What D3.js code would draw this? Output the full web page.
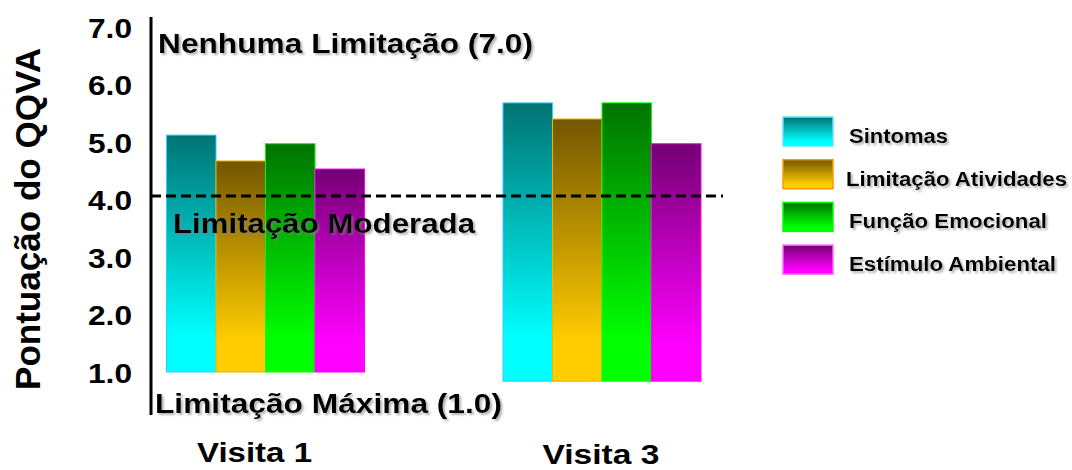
<!DOCTYPE html>
<html>
<head>
<meta charset="utf-8">
<script src="https://cdn.jsdelivr.net/npm/d3@7"></script>
<style>
  body { margin: 0; background: #ffffff; }
  text { font-family: "Liberation Sans", Arial, sans-serif; font-weight: bold; fill: #000; }
</style>
</head>
<body>
<div id="chart"></div>
<script>
// data
const groups = ["Visita 1", "Visita 3"];
const series = ["Sintomas", "Limitação Atividades", "Função Emocional", "Estímulo Ambiental"];
const visita1 = [5.12, 4.67, 4.97, 4.53];
const visita3 = [5.68, 5.40, 5.68, 4.97];
const groupBase = [1.0, 0.84];
const yTicks = [1, 2, 3, 4, 5, 6, 7];
const refLine = 4.06;
const annotations = ["Nenhuma Limitação (7.0)", "Limitação Moderada", "Limitação Máxima (1.0)"];
const yTitle = "Pontuação do QQVA";

// colours: dark top / bright bottom of each gradient
const topColors = ["#007373", "#735600", "#007300", "#730073"];
const bottomColors = ["#00ffff", "#ffcc00", "#00ff00", "#ff00ff"];
const barBorders = ["#33ccff", "#e6b800", "#00ff00", "#ff00ff"];
const legendBorders = ["#66e0ff", "#ff9900", "#00ff00", "#ff66ff"];

const values = [visita1, visita3];

// set the dimensions of the graph
const width = 1072, height = 470;

let svg = d3.select("#chart").append("svg")
  .attr("width", width)
  .attr("height", height)
  .style("display", "block");

svg.append("rect")
  .attr("width", width)
  .attr("height", height)
  .attr("fill", "#ffffff");

let defs = svg.append("defs");

// one vertical gradient per series
series.forEach(function (s, i) {
  let g = defs.append("linearGradient")
    .attr("id", "grad" + i)
    .attr("x1", 0).attr("y1", 0)
    .attr("x2", 0).attr("y2", 1);
  g.append("stop").attr("offset", "0%").attr("stop-color", topColors[i]);
  g.append("stop").attr("offset", "85%").attr("stop-color", bottomColors[i]);
  g.append("stop").attr("offset", "100%").attr("stop-color", bottomColors[i]);
});

// soft shadow behind some labels
let shadow = defs.append("filter")
  .attr("id", "shadow")
  .attr("x", "-5%").attr("y", "-20%")
  .attr("width", "115%").attr("height", "160%");
shadow.append("feDropShadow")
  .attr("dx", 2).attr("dy", 2)
  .attr("stdDeviation", 1)
  .attr("flood-color", "#808080")
  .attr("flood-opacity", 0.6);

// scales
const y = d3.scaleLinear()
  .domain([1, 7])
  .range([372, 27]);

const x0 = d3.scalePoint()
  .domain(groups)
  .range([265.5, 602]);

const x1 = d3.scaleBand()
  .domain(series)
  .range([-99, 99]);

// bars
groups.forEach(function (grp, gi) {
  svg.append("g")
    .attr("transform", "translate(" + x0(grp) + ",0)")
    .selectAll("rect")
    .data(values[gi])
    .enter().append("rect")
      .attr("x", function (d, i) { return x1(series[i]); })
      .attr("y", function (d) { return y(d); })
      .attr("width", x1.bandwidth())
      .attr("height", function (d) { return y(groupBase[gi]) - y(d); })
      .attr("fill", function (d, i) { return "url(#grad" + i + ")"; })
      .attr("stroke", function (d, i) { return barBorders[i]; })
      .attr("stroke-width", 1);
});

// y axis: labels from d3, own longer line
const axisX = 151;
let yAxis = svg.append("g")
  .attr("transform", "translate(" + axisX + ",0)")
  .call(d3.axisLeft(y)
    .tickValues(yTicks)
    .tickSize(0)
    .tickPadding(19)
    .tickFormat(d3.format(".1f")));
yAxis.select(".domain").remove();
yAxis.selectAll("text")
  .attr("font-family", null)
  .attr("font-size", null)
  .style("font-size", "28px")
  .attr("dy", "0.36em")
  .attr("textLength", 44)
  .attr("lengthAdjust", "spacingAndGlyphs");

svg.append("line")
  .attr("x1", axisX).attr("x2", axisX)
  .attr("y1", 17).attr("y2", 415)
  .attr("stroke", "#000")
  .attr("stroke-width", 3);

// dashed reference line
svg.append("line")
  .attr("x1", axisX).attr("x2", 723)
  .attr("y1", y(refLine)).attr("y2", y(refLine))
  .attr("stroke", "#000")
  .attr("stroke-width", 3)
  .attr("stroke-dasharray", "10,5");

// annotation labels
const annoPos = [
  { x: 158, y: y(7) + 26, w: 375 },
  { x: 173, y: y(refLine) + 37, w: 302 },
  { x: 155, y: y(1) + 41, w: 347 }
];
annotations.forEach(function (t, i) {
  svg.append("text")
    .attr("x", annoPos[i].x)
    .attr("y", annoPos[i].y)
    .style("font-size", "28px")
    .attr("textLength", annoPos[i].w)
    .attr("lengthAdjust", "spacingAndGlyphs")
    .attr("filter", "url(#shadow)")
    .text(t);
});

// group labels
const labelDx = [-11, -1], labelDy = [462, 464], labelW = [115, 117];
groups.forEach(function (grp, gi) {
  svg.append("text")
    .attr("x", x0(grp) + labelDx[gi])
    .attr("y", labelDy[gi])
    .attr("text-anchor", "middle")
    .style("font-size", "28px")
    .attr("textLength", labelW[gi])
    .attr("lengthAdjust", "spacingAndGlyphs")
    .text(grp);
});

// y title
svg.append("text")
  .attr("transform", "translate(40,219) rotate(-90)")
  .attr("text-anchor", "middle")
  .style("font-size", "35px")
  .attr("textLength", 342)
  .attr("lengthAdjust", "spacingAndGlyphs")
  .text(yTitle);

// legend
const legendW = [99, 221, 198, 207];
let legend = svg.append("g")
  .attr("transform", "translate(783,117)");

let item = legend.selectAll("g")
  .data(series)
  .enter().append("g")
    .attr("transform", function (d, i) { return "translate(0," + (i * 42.7) + ")"; });

item.append("rect")
  .attr("width", 50)
  .attr("height", 29)
  .attr("fill", function (d, i) { return "url(#grad" + i + ")"; })
  .attr("stroke", function (d, i) { return legendBorders[i]; })
  .attr("stroke-width", 1.5);

item.append("text")
  .attr("x", function (d, i) { return i == 1 ? 63 : 66; })
  .attr("y", 26)
  .style("font-size", "20px")
  .attr("textLength", function (d, i) { return legendW[i]; })
  .attr("lengthAdjust", "spacingAndGlyphs")
  .attr("filter", "url(#shadow)")
  .text(function (d) { return d; });
</script>
</body>
</html>
